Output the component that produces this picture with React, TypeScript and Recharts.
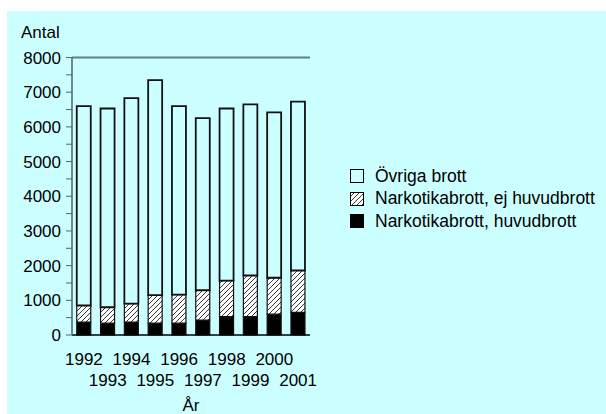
import React from "react";
import { BarChart, Bar, XAxis, YAxis, Legend, ReferenceLine } from "recharts";

const years = ["1992", "1993", "1994", "1995", "1996", "1997", "1998", "1999", "2000", "2001"];
const huvudbrott = [375, 340, 375, 340, 340, 430, 530, 530, 600, 655];
const ejHuvudbrott = [475, 460, 530, 810, 825, 860, 1040, 1185, 1050, 1205];
const ovrigaBrott = [5750, 5730, 5925, 6200, 5435, 4960, 4960, 4935, 4770, 4870];
const yTicks = [0, 500, 1000, 1500, 2000, 2500, 3000, 3500, 4000, 4500, 5000, 5500, 6000, 6500, 7000, 7500, 8000];

const data = years.map((year, i) => ({
  year,
  huvud: huvudbrott[i],
  ejHuvud: ejHuvudbrott[i],
  ovriga: ovrigaBrott[i],
}));

const FONT = "'Liberation Sans', Arial, sans-serif";
const BG = "#CCFFFF";

const legendItems = [
  { label: "Övriga brott", fill: BG },
  { label: "Narkotikabrott, ej huvudbrott", fill: "url(#hatch)" },
  { label: "Narkotikabrott, huvudbrott", fill: "#000" },
];

/* staggered year labels: even index on first row, odd on second */
function YearTick(props: any) {
  const { x, y, payload, index } = props;
  const dy = index % 2 === 0 ? 29.5 : 51;
  return (
    <text x={x} y={y + dy} textAnchor="middle" fill="#000" fontSize={17} fontFamily={FONT}>
      {payload.value}
    </text>
  );
}

function LegendBox() {
  return (
    <div style={{ fontFamily: FONT, fontSize: 17.5, color: "#000" }}>
      {legendItems.map((item) => (
        <div key={item.label} style={{ display: "flex", alignItems: "center", height: 22.5 }}>
          <svg width={14} height={14} style={{ marginRight: 11 }}>
            <rect x={0.5} y={0.5} width={13} height={13} fill={item.fill} stroke="#000" strokeWidth={1} />
          </svg>
          <span>{item.label}</span>
        </div>
      ))}
    </div>
  );
}

export default function App() {
  return (
    <div
      style={{
        position: "absolute",
        left: 7,
        top: 11,
        width: 599,
        height: 403,
        background: BG,
        fontFamily: FONT,
      }}
    >
      <svg width={0} height={0} style={{ position: "absolute" }}>
        <defs>
          <pattern id="hatch" patternUnits="userSpaceOnUse" width={5} height={5}>
            <rect width={5} height={5} fill="#fff" />
            <path d="M0,5 L5,0 M-1,1 L1,-1 M4,6 L6,4" stroke="#222" strokeWidth={0.9} />
          </pattern>
        </defs>
      </svg>
      <div style={{ position: "absolute", left: 14, top: 12, fontSize: 17, lineHeight: "normal", color: "#000" }}>
        Antal
      </div>
      <BarChart
        width={599}
        height={403}
        data={data}
        margin={{ top: 46.5, right: 296, bottom: 0, left: 0 }}
        barCategoryGap="20%"
      >
        <XAxis
          dataKey="year"
          height={79}
          tickLine={false}
          tickSize={0}
          tickMargin={0}
          interval={0}
          axisLine={{ stroke: "#000", strokeWidth: 1.5 }}
          tick={<YearTick />}
          label={{ value: "År", position: "insideBottom", offset: 3, fill: "#000", fontSize: 17, fontFamily: FONT }}
        />
        <YAxis
          width={65}
          domain={[0, 8000]}
          ticks={yTicks}
          interval={0}
          tickSize={6}
          tickMargin={5}
          tickFormatter={(v: number) => (v % 1000 === 0 ? String(v) : "")}
          axisLine={{ stroke: "#4d6666", strokeWidth: 1.5 }}
          tickLine={{ stroke: "#4d6666" }}
          tick={{ fill: "#000", fontSize: 17, fontFamily: FONT }}
        />
        <YAxis
          yAxisId="right"
          orientation="right"
          width={0}
          domain={[0, 8000]}
          tick={false}
          tickLine={false}
          axisLine={{ stroke: "#000", strokeWidth: 1.5 }}
        />
        <ReferenceLine y={8000} stroke="#5f7f7f" strokeWidth={2} />
        <Legend
          layout="vertical"
          align="center"
          verticalAlign="middle"
          content={<LegendBox />}
          wrapperStyle={{ left: 343, top: 154, width: 256 }}
        />
        <Bar dataKey="huvud" stackId="a" fill="#000" stroke="#111" strokeWidth={1.2} isAnimationActive={false} />
        <Bar dataKey="ejHuvud" stackId="a" fill="url(#hatch)" stroke="#111" strokeWidth={1.2} isAnimationActive={false} />
        <Bar dataKey="ovriga" stackId="a" fill={BG} stroke="#111" strokeWidth={1.8} isAnimationActive={false} />
      </BarChart>
    </div>
  );
}
